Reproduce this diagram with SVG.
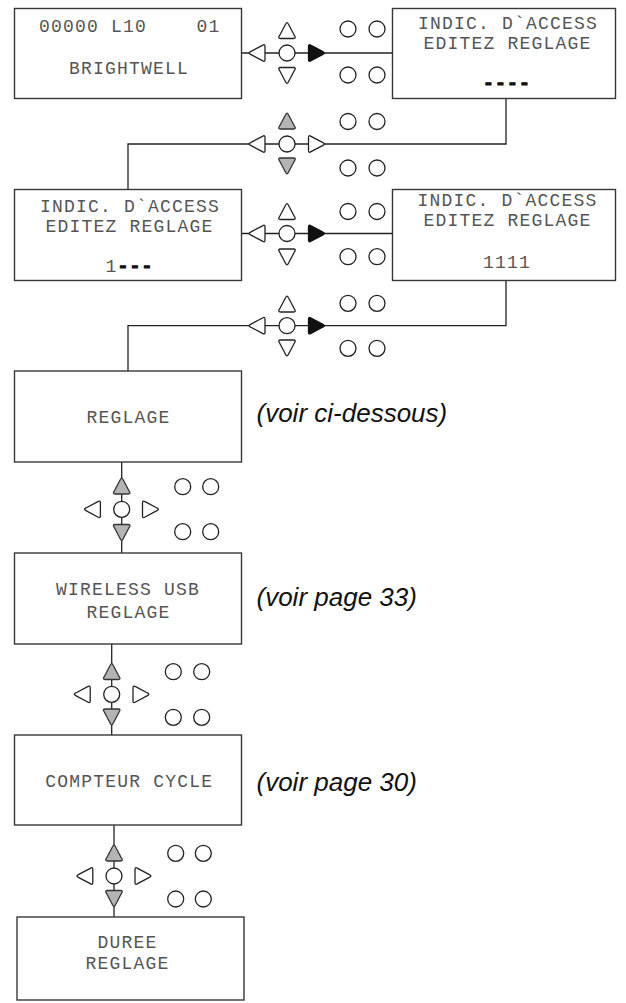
<svg xmlns="http://www.w3.org/2000/svg" xmlns:xlink="http://www.w3.org/1999/xlink" width="626" height="1003" viewBox="0 0 626 1003">
<style>
.box{fill:#fff;stroke:#383838;stroke-width:1.4}
.ln{fill:none;stroke:#222;stroke-width:1.3}
.aw{fill:#fff;stroke:#222;stroke-width:1.3}
.ag{fill:#b4b4b4;stroke:#333;stroke-width:1.3}
.ak{fill:#111;stroke:#111;stroke-width:1.3}
.c{fill:#fff;stroke:#222;stroke-width:1.3}
.t{font-family:"Liberation Mono","DejaVu Sans Mono",monospace;font-size:18px;letter-spacing:1.2px;fill:#555;text-anchor:middle}
.ts{text-anchor:start}
.d{font-weight:bold;fill:#111;stroke:#111;stroke-width:1.1}
.note{font-family:"Liberation Sans",Arial,sans-serif;font-style:italic;font-size:26px;fill:#111}
</style>
<defs>
<path id="tri" d="M -1.35,-5.95 Q 0,-8.8 1.35,-5.95 L 7.65,5.95 Q 9.3,8.5 6.6,8.5 L -6.6,8.5 Q -9.3,8.5 -7.65,5.95 Z"/>
<circle id="dot" r="8"/>
</defs>
<rect width="626" height="1003" fill="#fff"/>
<g id="connectors">
<line class="ln" x1="241.5" y1="53" x2="392.5" y2="53"/>
<polyline class="ln" points="506,98.5 506,144 128,144 128,189.5"/>
<line class="ln" x1="241.5" y1="233.5" x2="392.5" y2="233.5"/>
<polyline class="ln" points="506,280.5 506,325.7 128,325.7 128,371"/>
<line class="ln" x1="121.7" y1="462" x2="121.7" y2="553"/>
<line class="ln" x1="111.7" y1="644" x2="111.7" y2="735"/>
<line class="ln" x1="114" y1="825" x2="114" y2="917"/>
</g>
<g id="box1">
<rect class="box" x="14.5" y="8.5" width="227" height="90"/>
<text class="t ts" x="39" y="32">00000 L10</text>
<text class="t ts" x="196.5" y="32">01</text>
<text class="t" x="129" y="73.5">BRIGHTWELL</text>
</g>
<g id="box2">
<rect class="box" x="392.5" y="8.5" width="223" height="90"/>
<text class="t" x="508" y="28.5">INDIC. D`ACCESS</text>
<text class="t" x="507.5" y="48.5">EDITEZ REGLAGE</text>
<text class="t d" x="507" y="89">----</text>
</g>
<g id="box3">
<rect class="box" x="14.5" y="189.5" width="227" height="91"/>
<text class="t" x="130" y="211.7">INDIC. D`ACCESS</text>
<text class="t" x="129.5" y="231.7">EDITEZ REGLAGE</text>
<text class="t" x="129.5" y="271.7">1<tspan class="d">---</tspan></text>
</g>
<g id="box4">
<rect class="box" x="392.5" y="189.5" width="223" height="91"/>
<text class="t" x="507.5" y="206">INDIC. D`ACCESS</text>
<text class="t" x="507.5" y="226">EDITEZ REGLAGE</text>
<text class="t" x="507" y="268.3">1111</text>
</g>
<g id="box5">
<rect class="box" x="14.5" y="371" width="227" height="91"/>
<text class="t" x="128.5" y="423">REGLAGE</text>
</g>
<g id="box6">
<rect class="box" x="14.5" y="553" width="227" height="91"/>
<text class="t" x="128" y="595">WIRELESS USB</text>
<text class="t" x="128.5" y="617.5">REGLAGE</text>
</g>
<g id="box7">
<rect class="box" x="14.5" y="735" width="227" height="90"/>
<text class="t" x="129.3" y="786.7">COMPTEUR CYCLE</text>
</g>
<g id="box8">
<rect class="box" x="17" y="917" width="227" height="83"/>
<text class="t" x="127.5" y="948.3">DUREE</text>
<text class="t" x="127.5" y="969.3">REGLAGE</text>
</g>
<g id="notes">
<text class="note" x="256.5" y="421.5">(voir ci-dessous)</text>
<text class="note" x="256.5" y="606">(voir page 33)</text>
<text class="note" x="256.5" y="791">(voir page 30)</text>
</g>
<g id="keypad1" transform="translate(287,53)">
<use href="#tri" class="aw" transform="translate(0,-23)"/>
<use href="#tri" class="aw" transform="translate(0,23) rotate(180)"/>
<use href="#tri" class="aw" transform="translate(-30.5,0) rotate(-90)"/>
<use href="#tri" class="ak" transform="translate(30,0) rotate(90)"/>
<use href="#dot" class="c"/>
<use href="#dot" class="c" x="61" y="-24"/><use href="#dot" class="c" x="90" y="-24"/>
<use href="#dot" class="c" x="61" y="22"/><use href="#dot" class="c" x="90" y="22"/>
</g>
<g id="keypad2" transform="translate(287,144)">
<use href="#tri" class="ag" transform="translate(0,-23.5)"/>
<use href="#tri" class="ag" transform="translate(0,22.5) rotate(180)"/>
<use href="#tri" class="aw" transform="translate(-30.5,0) rotate(-90)"/>
<use href="#tri" class="aw" transform="translate(30,0) rotate(90)"/>
<use href="#dot" class="c"/>
<use href="#dot" class="c" x="61" y="-22.5"/><use href="#dot" class="c" x="90" y="-22.5"/>
<use href="#dot" class="c" x="61" y="24"/><use href="#dot" class="c" x="90" y="24"/>
</g>
<g id="keypad3" transform="translate(287,233.5)">
<use href="#tri" class="aw" transform="translate(0,-22.5)"/>
<use href="#tri" class="aw" transform="translate(0,24) rotate(180)"/>
<use href="#tri" class="aw" transform="translate(-30.5,0) rotate(-90)"/>
<use href="#tri" class="ak" transform="translate(30,0) rotate(90)"/>
<use href="#dot" class="c"/>
<use href="#dot" class="c" x="61" y="-22"/><use href="#dot" class="c" x="90" y="-22"/>
<use href="#dot" class="c" x="61" y="23.2"/><use href="#dot" class="c" x="90" y="23.2"/>
</g>
<g id="keypad4" transform="translate(287,325.7)">
<use href="#tri" class="aw" transform="translate(0,-22.2)"/>
<use href="#tri" class="aw" transform="translate(0,22.8) rotate(180)"/>
<use href="#tri" class="aw" transform="translate(-30.5,0) rotate(-90)"/>
<use href="#tri" class="ak" transform="translate(30,0) rotate(90)"/>
<use href="#dot" class="c"/>
<use href="#dot" class="c" x="61" y="-22.4"/><use href="#dot" class="c" x="90" y="-22.4"/>
<use href="#dot" class="c" x="61" y="22.6"/><use href="#dot" class="c" x="90" y="22.6"/>
</g>
<g id="keypad5" transform="translate(121.7,509.3)">
<use href="#tri" class="ag" transform="translate(0,-23.8)"/>
<use href="#tri" class="ag" transform="translate(0,23.7) rotate(180)"/>
<use href="#tri" class="aw" transform="translate(-29.8,0) rotate(-90)"/>
<use href="#tri" class="aw" transform="translate(29.3,0) rotate(90)"/>
<use href="#dot" class="c"/>
<use href="#dot" class="c" x="61" y="-22.6"/><use href="#dot" class="c" x="89" y="-22.6"/>
<use href="#dot" class="c" x="61" y="22.4"/><use href="#dot" class="c" x="89" y="22.4"/>
</g>
<g id="keypad6" transform="translate(111.7,694.3)">
<use href="#tri" class="ag" transform="translate(0,-23.3)"/>
<use href="#tri" class="ag" transform="translate(0,23.2) rotate(180)"/>
<use href="#tri" class="aw" transform="translate(-30,0) rotate(-90)"/>
<use href="#tri" class="aw" transform="translate(29.8,0) rotate(90)"/>
<use href="#dot" class="c"/>
<use href="#dot" class="c" x="61.6" y="-22.6"/><use href="#dot" class="c" x="90" y="-22.6"/>
<use href="#dot" class="c" x="61.6" y="23"/><use href="#dot" class="c" x="90" y="23"/>
</g>
<g id="keypad7" transform="translate(114,876)">
<use href="#tri" class="ag" transform="translate(0,-23.5)"/>
<use href="#tri" class="ag" transform="translate(0,23) rotate(180)"/>
<use href="#tri" class="aw" transform="translate(-29.7,0) rotate(-90)"/>
<use href="#tri" class="aw" transform="translate(29.5,0) rotate(90)"/>
<use href="#dot" class="c"/>
<use href="#dot" class="c" x="61.7" y="-22.7"/><use href="#dot" class="c" x="89.3" y="-22.7"/>
<use href="#dot" class="c" x="61.7" y="23"/><use href="#dot" class="c" x="89.3" y="23"/>
</g>
</svg>
